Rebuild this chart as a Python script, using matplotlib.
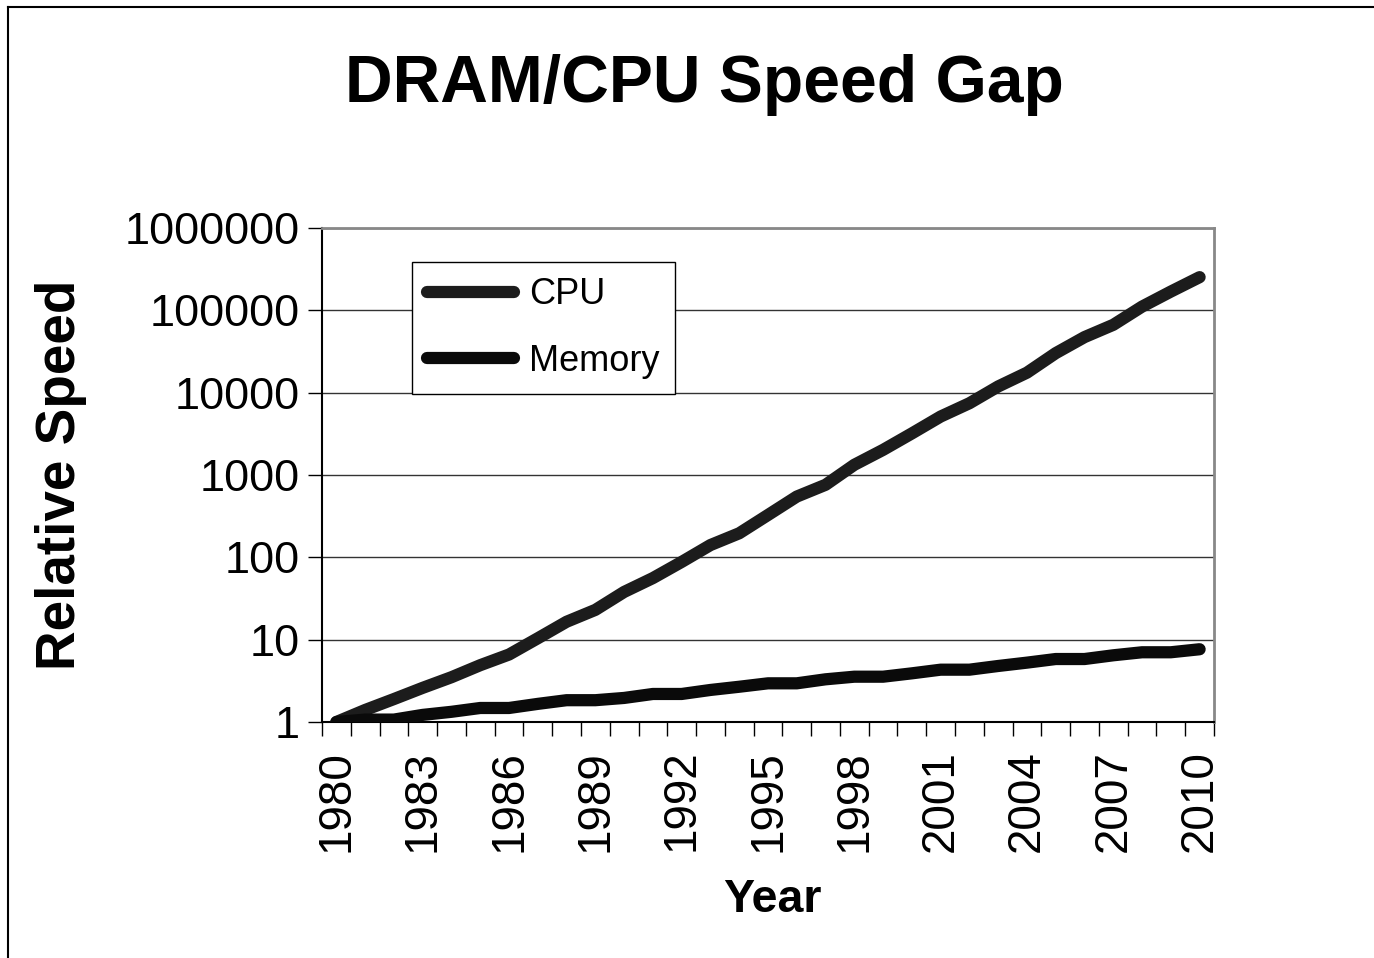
import numpy as np
import matplotlib
matplotlib.use('Agg')
import matplotlib.pyplot as plt
from matplotlib.lines import Line2D
from matplotlib.ticker import FixedLocator, FixedFormatter, NullFormatter

plt.rcParams['font.family'] = ['Liberation Sans', 'DejaVu Sans']

# data (relative speed, 1980 = 1)
years = list(range(1980, 2011))
cpu = [1.0, 1.4, 1.9, 2.6, 3.5, 4.9, 6.6, 10.4, 16.5, 23, 38,
       56, 88, 141, 196, 327, 547, 760, 1330, 2020, 3200,
       5130, 7440, 11900, 17500, 30200, 47300, 66700, 111000, 169000, 253000]
memory = [1.0, 1.07, 1.07, 1.22, 1.33, 1.48, 1.48, 1.66, 1.84, 1.84, 1.96,
          2.19, 2.19, 2.45, 2.68, 2.95, 2.95, 3.3, 3.55, 3.55, 3.9,
          4.32, 4.32, 4.79, 5.26, 5.82, 5.82, 6.46, 7.03, 7.03, 7.65]
y_ticks = [1, 10, 100, 1000, 10000, 100000, 1000000]
x_label_every = 3

fig = plt.figure(figsize=(13.74, 9.58), dpi=100)
ax = fig.add_axes([322 / 1374, 1 - 722 / 958, 892 / 1374, 494 / 958])

x = np.arange(len(years))
ax.plot(x, cpu, color='#1c1c1c', lw=8.8, solid_capstyle='round',
        solid_joinstyle='round', label='CPU', zorder=3)
ax.plot(x, memory, color='#0a0a0a', lw=8.8, solid_capstyle='round',
        solid_joinstyle='round', label='Memory', zorder=4)

# log y axis with a gridline per decade
ax.set_yscale('log')
ax.set_ylim(1, 1000000)
ax.yaxis.set_major_locator(FixedLocator(y_ticks))
ax.yaxis.set_major_formatter(FixedFormatter([str(v) for v in y_ticks]))
ax.yaxis.set_minor_locator(FixedLocator([]))
ax.grid(axis='y', color='#333333', lw=1.0, zorder=1)
ax.tick_params(axis='y', which='major', direction='out', length=10, width=1,
               labelsize=32.5, pad=6)

# category x axis: ticks between years, labels every third year
ax.set_xlim(-0.5, len(years) - 0.5)
ax.xaxis.set_major_locator(FixedLocator(np.arange(-0.5, len(years), 1)))
ax.xaxis.set_major_formatter(NullFormatter())
lab_pos = x[::x_label_every]
ax.xaxis.set_minor_locator(FixedLocator(lab_pos))
ax.xaxis.set_minor_formatter(FixedFormatter([str(years[i]) for i in lab_pos]))
ax.tick_params(axis='x', which='major', direction='out', length=10, width=1)
ax.tick_params(axis='x', which='minor', length=0, labelsize=33, pad=20,
               labelrotation=90)

for side in ['top', 'right']:
    ax.spines[side].set_color('#888888')
    ax.spines[side].set_linewidth(2)
ax.spines['left'].set_linewidth(1.5)
ax.spines['bottom'].set_linewidth(1.5)

ax.set_xlabel('Year', fontsize=33.5, fontweight='bold')
ax.xaxis.label.set_va('center')
ax.xaxis.set_label_coords(0.505, -0.36)
ax.set_ylabel('Relative Speed', fontsize=39.5, fontweight='bold')
ax.yaxis.label.set_va('center')
ax.yaxis.set_label_coords(-0.293, 0.5)

leg = ax.legend(loc='upper left', bbox_to_anchor=(0.1009, 0.931),
                borderaxespad=0, fontsize=26, frameon=True, fancybox=False,
                edgecolor='black', framealpha=1, handlelength=2.4,
                handletextpad=0.42, labelspacing=0.88, borderpad=0.42)
leg.get_frame().set_linewidth(1)
leg.set_zorder(5)

fig.text(704 / 1374, 1 - 85 / 958, 'DRAM/CPU Speed Gap', fontsize=47.5,
         fontweight='bold', ha='center', va='center')

# slide frame lines (top and left)
fig.add_artist(Line2D([8 / 1374, 1], [1 - 7 / 958, 1 - 7 / 958],
                      color='black', lw=1.5, transform=fig.transFigure))
fig.add_artist(Line2D([8 / 1374, 8 / 1374], [0, 1 - 7 / 958],
                      color='black', lw=1.5, transform=fig.transFigure))

fig.savefig('out.png', dpi=100)
